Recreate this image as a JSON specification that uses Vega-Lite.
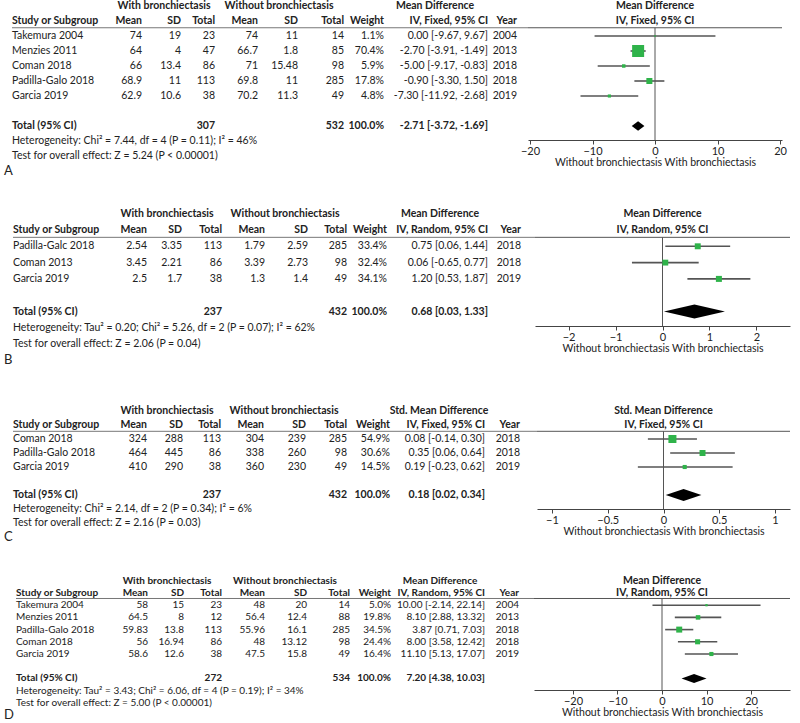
{
"$schema": "https://vega.github.io/schema/vega-lite/v6.json",
"background": "white",
"padding": 0,
"spacing": 0,
"resolve": {"scale": {"x": "independent", "y": "independent", "size": "independent"}},
"config": {
  "view": {"stroke": null},
  "font": "Lato",
  "text": {"font": "Lato", "fontSize": 10.5, "color": "#222"},
  "axis": {"domainColor": "#444", "tickColor": "#444", "tickSize": 4, "labelFont": "Lato", "labelFontSize": 11, "labelColor": "#222", "labelPadding": 1, "labelFlush": false, "labelOverlap": false, "titleFont": "Lato", "titleFontSize": 10.5, "titleFontWeight": "normal", "titleColor": "#222", "titlePadding": 1, "grid": false}
},
"datasets": {
"cellsA": [
{"r":-1,"c":10,"t":"With bronchiectasis","k":"g"},{"r":-1,"c":11,"t":"Without bronchiectasis","k":"g"},{"r":-1,"c":12,"t":"Mean Difference","k":"g"},
{"r":0,"c":0,"t":"Study or Subgroup","k":"h"},{"r":0,"c":1,"t":"Mean","k":"h"},{"r":0,"c":2,"t":"SD","k":"h"},{"r":0,"c":3,"t":"Total","k":"h"},{"r":0,"c":4,"t":"Mean","k":"h"},{"r":0,"c":5,"t":"SD","k":"h"},{"r":0,"c":6,"t":"Total","k":"h"},{"r":0,"c":7,"t":"Weight","k":"h"},{"r":0,"c":8,"t":"IV, Fixed, 95% CI","k":"h"},{"r":0,"c":9,"t":"Year","k":"h"},
{"r":1,"c":0,"t":"Takemura 2004","k":"b"},{"r":1,"c":1,"t":"74","k":"b"},{"r":1,"c":2,"t":"19","k":"b"},{"r":1,"c":3,"t":"23","k":"b"},{"r":1,"c":4,"t":"74","k":"b"},{"r":1,"c":5,"t":"11","k":"b"},{"r":1,"c":6,"t":"14","k":"b"},{"r":1,"c":7,"t":"1.1%","k":"b"},{"r":1,"c":8,"t":"0.00 [-9.67, 9.67]","k":"b"},{"r":1,"c":9,"t":"2004","k":"b"},
{"r":2,"c":0,"t":"Menzies 2011","k":"b"},{"r":2,"c":1,"t":"64","k":"b"},{"r":2,"c":2,"t":"4","k":"b"},{"r":2,"c":3,"t":"47","k":"b"},{"r":2,"c":4,"t":"66.7","k":"b"},{"r":2,"c":5,"t":"1.8","k":"b"},{"r":2,"c":6,"t":"85","k":"b"},{"r":2,"c":7,"t":"70.4%","k":"b"},{"r":2,"c":8,"t":"-2.70 [-3.91, -1.49]","k":"b"},{"r":2,"c":9,"t":"2013","k":"b"},
{"r":3,"c":0,"t":"Coman 2018","k":"b"},{"r":3,"c":1,"t":"66","k":"b"},{"r":3,"c":2,"t":"13.4","k":"b"},{"r":3,"c":3,"t":"86","k":"b"},{"r":3,"c":4,"t":"71","k":"b"},{"r":3,"c":5,"t":"15.48","k":"b"},{"r":3,"c":6,"t":"98","k":"b"},{"r":3,"c":7,"t":"5.9%","k":"b"},{"r":3,"c":8,"t":"-5.00 [-9.17, -0.83]","k":"b"},{"r":3,"c":9,"t":"2018","k":"b"},
{"r":4,"c":0,"t":"Padilla-Galo 2018","k":"b"},{"r":4,"c":1,"t":"68.9","k":"b"},{"r":4,"c":2,"t":"11","k":"b"},{"r":4,"c":3,"t":"113","k":"b"},{"r":4,"c":4,"t":"69.8","k":"b"},{"r":4,"c":5,"t":"11","k":"b"},{"r":4,"c":6,"t":"285","k":"b"},{"r":4,"c":7,"t":"17.8%","k":"b"},{"r":4,"c":8,"t":"-0.90 [-3.30, 1.50]","k":"b"},{"r":4,"c":9,"t":"2018","k":"b"},
{"r":5,"c":0,"t":"Garcia 2019","k":"b"},{"r":5,"c":1,"t":"62.9","k":"b"},{"r":5,"c":2,"t":"10.6","k":"b"},{"r":5,"c":3,"t":"38","k":"b"},{"r":5,"c":4,"t":"70.2","k":"b"},{"r":5,"c":5,"t":"11.3","k":"b"},{"r":5,"c":6,"t":"49","k":"b"},{"r":5,"c":7,"t":"4.8%","k":"b"},{"r":5,"c":8,"t":"-7.30 [-11.92, -2.68]","k":"b"},{"r":5,"c":9,"t":"2019","k":"b"},
{"r":7,"c":0,"t":"Total (95% CI)","k":"t"},{"r":7,"c":3,"t":"307","k":"t"},{"r":7,"c":6,"t":"532","k":"t"},{"r":7,"c":7,"t":"100.0%","k":"t"},{"r":7,"c":8,"t":"-2.71 [-3.72, -1.69]","k":"t"},
{"r":8,"c":0,"t":"Heterogeneity: Chi² = 7.44, df = 4 (P = 0.11); I² = 46%","k":"f"},
{"r":9,"c":0,"t":"Test for overall effect: Z = 5.24 (P < 0.00001)","k":"f"},
{"r":10,"c":-1,"t":"A","k":"l"}
],
"cellsB": [
{"r":-1,"c":10,"t":"With bronchiectasis","k":"g"},{"r":-1,"c":11,"t":"Without bronchiectasis","k":"g"},{"r":-1,"c":12,"t":"Mean Difference","k":"g"},
{"r":0,"c":0,"t":"Study or Subgroup","k":"h"},{"r":0,"c":1,"t":"Mean","k":"h"},{"r":0,"c":2,"t":"SD","k":"h"},{"r":0,"c":3,"t":"Total","k":"h"},{"r":0,"c":4,"t":"Mean","k":"h"},{"r":0,"c":5,"t":"SD","k":"h"},{"r":0,"c":6,"t":"Total","k":"h"},{"r":0,"c":7,"t":"Weight","k":"h"},{"r":0,"c":8,"t":"IV, Random, 95% CI","k":"h"},{"r":0,"c":9,"t":"Year","k":"h"},
{"r":1,"c":0,"t":"Padilla-Galc 2018","k":"b"},{"r":1,"c":1,"t":"2.54","k":"b"},{"r":1,"c":2,"t":"3.35","k":"b"},{"r":1,"c":3,"t":"113","k":"b"},{"r":1,"c":4,"t":"1.79","k":"b"},{"r":1,"c":5,"t":"2.59","k":"b"},{"r":1,"c":6,"t":"285","k":"b"},{"r":1,"c":7,"t":"33.4%","k":"b"},{"r":1,"c":8,"t":"0.75 [0.06, 1.44]","k":"b"},{"r":1,"c":9,"t":"2018","k":"b"},
{"r":2,"c":0,"t":"Coman 2013","k":"b"},{"r":2,"c":1,"t":"3.45","k":"b"},{"r":2,"c":2,"t":"2.21","k":"b"},{"r":2,"c":3,"t":"86","k":"b"},{"r":2,"c":4,"t":"3.39","k":"b"},{"r":2,"c":5,"t":"2.73","k":"b"},{"r":2,"c":6,"t":"98","k":"b"},{"r":2,"c":7,"t":"32.4%","k":"b"},{"r":2,"c":8,"t":"0.06 [-0.65, 0.77]","k":"b"},{"r":2,"c":9,"t":"2018","k":"b"},
{"r":3,"c":0,"t":"Garcia 2019","k":"b"},{"r":3,"c":1,"t":"2.5","k":"b"},{"r":3,"c":2,"t":"1.7","k":"b"},{"r":3,"c":3,"t":"38","k":"b"},{"r":3,"c":4,"t":"1.3","k":"b"},{"r":3,"c":5,"t":"1.4","k":"b"},{"r":3,"c":6,"t":"49","k":"b"},{"r":3,"c":7,"t":"34.1%","k":"b"},{"r":3,"c":8,"t":"1.20 [0.53, 1.87]","k":"b"},{"r":3,"c":9,"t":"2019","k":"b"},
{"r":5,"c":0,"t":"Total (95% CI)","k":"t"},{"r":5,"c":3,"t":"237","k":"t"},{"r":5,"c":6,"t":"432","k":"t"},{"r":5,"c":7,"t":"100.0%","k":"t"},{"r":5,"c":8,"t":"0.68 [0.03, 1.33]","k":"t"},
{"r":6,"c":0,"t":"Heterogeneity: Tau² = 0.20; Chi² = 5.26, df = 2 (P = 0.07); I² = 62%","k":"f"},
{"r":7,"c":0,"t":"Test for overall effect: Z = 2.06 (P = 0.04)","k":"f"},
{"r":8,"c":-1,"t":"B","k":"l"}
],
"cellsC": [
{"r":-1,"c":10,"t":"With bronchiectasis","k":"g"},{"r":-1,"c":11,"t":"Without bronchiectasis","k":"g"},{"r":-1,"c":12,"t":"Std. Mean Difference","k":"g"},
{"r":0,"c":0,"t":"Study or Subgroup","k":"h"},{"r":0,"c":1,"t":"Mean","k":"h"},{"r":0,"c":2,"t":"SD","k":"h"},{"r":0,"c":3,"t":"Total","k":"h"},{"r":0,"c":4,"t":"Mean","k":"h"},{"r":0,"c":5,"t":"SD","k":"h"},{"r":0,"c":6,"t":"Total","k":"h"},{"r":0,"c":7,"t":"Weight","k":"h"},{"r":0,"c":8,"t":"IV, Fixed, 95% CI","k":"h"},{"r":0,"c":9,"t":"Year","k":"h"},
{"r":1,"c":0,"t":"Coman 2018","k":"b"},{"r":1,"c":1,"t":"324","k":"b"},{"r":1,"c":2,"t":"288","k":"b"},{"r":1,"c":3,"t":"113","k":"b"},{"r":1,"c":4,"t":"304","k":"b"},{"r":1,"c":5,"t":"239","k":"b"},{"r":1,"c":6,"t":"285","k":"b"},{"r":1,"c":7,"t":"54.9%","k":"b"},{"r":1,"c":8,"t":"0.08 [-0.14, 0.30]","k":"b"},{"r":1,"c":9,"t":"2018","k":"b"},
{"r":2,"c":0,"t":"Padilla-Galo 2018","k":"b"},{"r":2,"c":1,"t":"464","k":"b"},{"r":2,"c":2,"t":"445","k":"b"},{"r":2,"c":3,"t":"86","k":"b"},{"r":2,"c":4,"t":"338","k":"b"},{"r":2,"c":5,"t":"260","k":"b"},{"r":2,"c":6,"t":"98","k":"b"},{"r":2,"c":7,"t":"30.6%","k":"b"},{"r":2,"c":8,"t":"0.35 [0.06, 0.64]","k":"b"},{"r":2,"c":9,"t":"2018","k":"b"},
{"r":3,"c":0,"t":"Garcia 2019","k":"b"},{"r":3,"c":1,"t":"410","k":"b"},{"r":3,"c":2,"t":"290","k":"b"},{"r":3,"c":3,"t":"38","k":"b"},{"r":3,"c":4,"t":"360","k":"b"},{"r":3,"c":5,"t":"230","k":"b"},{"r":3,"c":6,"t":"49","k":"b"},{"r":3,"c":7,"t":"14.5%","k":"b"},{"r":3,"c":8,"t":"0.19 [-0.23, 0.62]","k":"b"},{"r":3,"c":9,"t":"2019","k":"b"},
{"r":5,"c":0,"t":"Total (95% CI)","k":"t"},{"r":5,"c":3,"t":"237","k":"t"},{"r":5,"c":6,"t":"432","k":"t"},{"r":5,"c":7,"t":"100.0%","k":"t"},{"r":5,"c":8,"t":"0.18 [0.02, 0.34]","k":"t"},
{"r":6,"c":0,"t":"Heterogeneity: Chi² = 2.14, df = 2 (P = 0.34); I² = 6%","k":"f"},
{"r":7,"c":0,"t":"Test for overall effect: Z = 2.16 (P = 0.03)","k":"f"},
{"r":8,"c":-1,"t":"C","k":"l"}
],
"cellsD": [
{"r":-1,"c":10,"t":"With bronchiectasis","k":"g"},{"r":-1,"c":11,"t":"Without bronchiectasis","k":"g"},{"r":-1,"c":12,"t":"Mean Difference","k":"g"},
{"r":0,"c":0,"t":"Study or Subgroup","k":"h"},{"r":0,"c":1,"t":"Mean","k":"h"},{"r":0,"c":2,"t":"SD","k":"h"},{"r":0,"c":3,"t":"Total","k":"h"},{"r":0,"c":4,"t":"Mean","k":"h"},{"r":0,"c":5,"t":"SD","k":"h"},{"r":0,"c":6,"t":"Total","k":"h"},{"r":0,"c":7,"t":"Weight","k":"h"},{"r":0,"c":8,"t":"IV, Random, 95% CI","k":"h"},{"r":0,"c":9,"t":"Year","k":"h"},
{"r":1,"c":0,"t":"Takemura 2004","k":"b"},{"r":1,"c":1,"t":"58","k":"b"},{"r":1,"c":2,"t":"15","k":"b"},{"r":1,"c":3,"t":"23","k":"b"},{"r":1,"c":4,"t":"48","k":"b"},{"r":1,"c":5,"t":"20","k":"b"},{"r":1,"c":6,"t":"14","k":"b"},{"r":1,"c":7,"t":"5.0%","k":"b"},{"r":1,"c":8,"t":"10.00 [-2.14, 22.14]","k":"b"},{"r":1,"c":9,"t":"2004","k":"b"},
{"r":2,"c":0,"t":"Menzies 2011","k":"b"},{"r":2,"c":1,"t":"64.5","k":"b"},{"r":2,"c":2,"t":"8","k":"b"},{"r":2,"c":3,"t":"12","k":"b"},{"r":2,"c":4,"t":"56.4","k":"b"},{"r":2,"c":5,"t":"12.4","k":"b"},{"r":2,"c":6,"t":"88","k":"b"},{"r":2,"c":7,"t":"19.8%","k":"b"},{"r":2,"c":8,"t":"8.10 [2.88, 13.32]","k":"b"},{"r":2,"c":9,"t":"2013","k":"b"},
{"r":3,"c":0,"t":"Padilla-Galo 2018","k":"b"},{"r":3,"c":1,"t":"59.83","k":"b"},{"r":3,"c":2,"t":"13.8","k":"b"},{"r":3,"c":3,"t":"113","k":"b"},{"r":3,"c":4,"t":"55.96","k":"b"},{"r":3,"c":5,"t":"16.1","k":"b"},{"r":3,"c":6,"t":"285","k":"b"},{"r":3,"c":7,"t":"34.5%","k":"b"},{"r":3,"c":8,"t":"3.87 [0.71, 7.03]","k":"b"},{"r":3,"c":9,"t":"2018","k":"b"},
{"r":4,"c":0,"t":"Coman 2018","k":"b"},{"r":4,"c":1,"t":"56","k":"b"},{"r":4,"c":2,"t":"16.94","k":"b"},{"r":4,"c":3,"t":"86","k":"b"},{"r":4,"c":4,"t":"48","k":"b"},{"r":4,"c":5,"t":"13.12","k":"b"},{"r":4,"c":6,"t":"98","k":"b"},{"r":4,"c":7,"t":"24.4%","k":"b"},{"r":4,"c":8,"t":"8.00 [3.58, 12.42]","k":"b"},{"r":4,"c":9,"t":"2018","k":"b"},
{"r":5,"c":0,"t":"Garcia 2019","k":"b"},{"r":5,"c":1,"t":"58.6","k":"b"},{"r":5,"c":2,"t":"12.6","k":"b"},{"r":5,"c":3,"t":"38","k":"b"},{"r":5,"c":4,"t":"47.5","k":"b"},{"r":5,"c":5,"t":"15.8","k":"b"},{"r":5,"c":6,"t":"49","k":"b"},{"r":5,"c":7,"t":"16.4%","k":"b"},{"r":5,"c":8,"t":"11.10 [5.13, 17.07]","k":"b"},{"r":5,"c":9,"t":"2019","k":"b"},
{"r":7,"c":0,"t":"Total (95% CI)","k":"t"},{"r":7,"c":3,"t":"272","k":"t"},{"r":7,"c":6,"t":"534","k":"t"},{"r":7,"c":7,"t":"100.0%","k":"t"},{"r":7,"c":8,"t":"7.20 [4.38, 10.03]","k":"t"},
{"r":8,"c":0,"t":"Heterogeneity: Tau² = 3.43; Chi² = 6.06, df = 4 (P = 0.19); I² = 34%","k":"f"},
{"r":9,"c":0,"t":"Test for overall effect: Z = 5.00 (P < 0.00001)","k":"f"},
{"r":10,"c":-1,"t":"D","k":"l"}
],
"forestA": [
{"study":"Takemura 2004","r":1,"est":0.00,"lo":-9.67,"hi":9.67,"w":1.1,"k":"s"},
{"study":"Menzies 2011","r":2,"est":-2.70,"lo":-3.91,"hi":-1.49,"w":70.4,"k":"s"},
{"study":"Coman 2018","r":3,"est":-5.00,"lo":-9.17,"hi":-0.83,"w":5.9,"k":"s"},
{"study":"Padilla-Galo 2018","r":4,"est":-0.90,"lo":-3.30,"hi":1.50,"w":17.8,"k":"s"},
{"study":"Garcia 2019","r":5,"est":-7.30,"lo":-11.92,"hi":-2.68,"w":4.8,"k":"s"},
{"study":"Total (95% CI)","r":7,"est":-2.71,"lo":-3.72,"hi":-1.69,"w":100,"k":"t"}
],
"forestB": [
{"study":"Padilla-Galo 2018","r":1,"est":0.75,"lo":0.06,"hi":1.44,"w":33.4,"k":"s"},
{"study":"Coman 2018","r":2,"est":0.06,"lo":-0.65,"hi":0.77,"w":32.4,"k":"s"},
{"study":"Garcia 2019","r":3,"est":1.20,"lo":0.53,"hi":1.87,"w":34.1,"k":"s"},
{"study":"Total (95% CI)","r":5,"est":0.68,"lo":0.03,"hi":1.33,"w":100,"k":"t"}
],
"forestC": [
{"study":"Coman 2018","r":1,"est":0.08,"lo":-0.14,"hi":0.30,"w":54.9,"k":"s"},
{"study":"Padilla-Galo 2018","r":2,"est":0.35,"lo":0.06,"hi":0.64,"w":30.6,"k":"s"},
{"study":"Garcia 2019","r":3,"est":0.19,"lo":-0.23,"hi":0.62,"w":14.5,"k":"s"},
{"study":"Total (95% CI)","r":5,"est":0.18,"lo":0.02,"hi":0.34,"w":100,"k":"t"}
],
"forestD": [
{"study":"Takemura 2004","r":1,"est":10.00,"lo":-2.14,"hi":22.14,"w":5.0,"k":"s"},
{"study":"Menzies 2011","r":2,"est":8.10,"lo":2.88,"hi":13.32,"w":19.8,"k":"s"},
{"study":"Padilla-Galo 2018","r":3,"est":3.87,"lo":0.71,"hi":7.03,"w":34.5,"k":"s"},
{"study":"Coman 2018","r":4,"est":8.00,"lo":3.58,"hi":12.42,"w":24.4,"k":"s"},
{"study":"Garcia 2019","r":5,"est":11.10,"lo":5.13,"hi":17.07,"w":16.4,"k":"s"},
{"study":"Total (95% CI)","r":7,"est":7.20,"lo":4.38,"hi":10.03,"w":100,"k":"t"}
]
},
"vconcat": [
{
"spacing": 0, "bounds": "flush", "resolve": {"scale": {"x": "independent", "y": "independent", "size": "independent"}},
"hconcat": [
{
"width": 528, "height": 180, "data": {"name": "cellsA"},
"layer": [
{"transform":[{"filter":"datum.c==0 && (datum.k=='h' || datum.k=='t')"}],"mark":{"type":"text","align":"left","baseline":"middle","fontWeight":"bold"},"encoding":{"x":{"field":"c","type":"quantitative","axis":null,"scale":{"domain":[-1,0,1,2,3,4,5,6,7,8,9,10,11,12,13],"range":[4,12,142,181,215,258,298,344,384,488,517,164,279,435,528],"zero":false,"nice":false}},"y":{"field":"r","type":"quantitative","axis":null,"scale":{"domain":[-1.4,10.6],"reverse":true,"zero":false,"nice":false}},"text":{"field":"t","type":"nominal"}}},
{"transform":[{"filter":"datum.c==0 && (datum.k=='b' || datum.k=='f')"}],"mark":{"type":"text","align":"left","baseline":"middle"},"encoding":{"x":{"field":"c","type":"quantitative","axis":null,"scale":{"domain":[-1,0,1,2,3,4,5,6,7,8,9,10,11,12,13],"range":[4,12,142,181,215,258,298,344,384,488,517,164,279,435,528],"zero":false,"nice":false}},"y":{"field":"r","type":"quantitative","axis":null,"scale":{"domain":[-1.4,10.6],"reverse":true,"zero":false,"nice":false}},"text":{"field":"t","type":"nominal"}}},
{"transform":[{"filter":"datum.c>=1 && datum.c<=9 && (datum.k=='h' || datum.k=='t')"}],"mark":{"type":"text","align":"right","baseline":"middle","fontWeight":"bold"},"encoding":{"x":{"field":"c","type":"quantitative","axis":null,"scale":{"domain":[-1,0,1,2,3,4,5,6,7,8,9,10,11,12,13],"range":[4,12,142,181,215,258,298,344,384,488,517,164,279,435,528],"zero":false,"nice":false}},"y":{"field":"r","type":"quantitative","axis":null,"scale":{"domain":[-1.4,10.6],"reverse":true,"zero":false,"nice":false}},"text":{"field":"t","type":"nominal"}}},
{"transform":[{"filter":"datum.c>=1 && datum.c<=9 && datum.k=='b'"}],"mark":{"type":"text","align":"right","baseline":"middle"},"encoding":{"x":{"field":"c","type":"quantitative","axis":null,"scale":{"domain":[-1,0,1,2,3,4,5,6,7,8,9,10,11,12,13],"range":[4,12,142,181,215,258,298,344,384,488,517,164,279,435,528],"zero":false,"nice":false}},"y":{"field":"r","type":"quantitative","axis":null,"scale":{"domain":[-1.4,10.6],"reverse":true,"zero":false,"nice":false}},"text":{"field":"t","type":"nominal"}}},
{"transform":[{"filter":"datum.k=='g'"}],"mark":{"type":"text","align":"center","baseline":"middle","fontWeight":"bold"},"encoding":{"x":{"field":"c","type":"quantitative","axis":null,"scale":{"domain":[-1,0,1,2,3,4,5,6,7,8,9,10,11,12,13],"range":[4,12,142,181,215,258,298,344,384,488,517,164,279,435,528],"zero":false,"nice":false}},"y":{"field":"r","type":"quantitative","axis":null,"scale":{"domain":[-1.4,10.6],"reverse":true,"zero":false,"nice":false}},"text":{"field":"t","type":"nominal"}}},
{"transform":[{"filter":"datum.k=='l'"}],"mark":{"type":"text","align":"left","baseline":"middle","fontSize":13},"encoding":{"x":{"field":"c","type":"quantitative","axis":null,"scale":{"domain":[-1,0,1,2,3,4,5,6,7,8,9,10,11,12,13],"range":[4,12,142,181,215,258,298,344,384,488,517,164,279,435,528],"zero":false,"nice":false}},"y":{"field":"r","type":"quantitative","axis":null,"scale":{"domain":[-1.4,10.6],"reverse":true,"zero":false,"nice":false}},"text":{"field":"t","type":"nominal"}}},
{"data":{"values":[{}]},"mark":{"type":"rule","color":"#777","strokeWidth":1},"encoding":{"x":{"datum":0,"type":"quantitative","axis":null,"scale":{"domain":[-1,0,1,2,3,4,5,6,7,8,9,10,11,12,13],"range":[4,12,142,181,215,258,298,344,384,488,517,164,279,435,528],"zero":false,"nice":false}},"x2":{"datum":13},"y":{"datum":0.45,"type":"quantitative","axis":null,"scale":{"domain":[-1.4,10.6],"reverse":true,"zero":false,"nice":false}}}}
]
},
{
"width": 254, "height": 140, "data": {"name": "forestA"},
"layer": [
{"data":{"values":[{}]},"mark":{"type":"text","text":"Mean Difference","fontWeight":"bold","baseline":"middle"},"encoding":{"x":{"datum":0,"type":"quantitative","scale":{"domain":[-20.32,20.32],"zero":false,"nice":false},"axis":{"values":[-20,-10,0,10,20],"format":"d","title":"Without bronchiectasis  With bronchiectasis"}},"y":{"datum":-1,"type":"quantitative","axis":null,"scale":{"domain":[-1.4,7.9333],"reverse":true,"zero":false,"nice":false}}}},
{"data":{"values":[{}]},"mark":{"type":"text","text":"IV, Fixed, 95% CI","fontWeight":"bold","baseline":"middle"},"encoding":{"x":{"datum":0,"type":"quantitative","scale":{"domain":[-20.32,20.32],"zero":false,"nice":false},"axis":{"values":[-20,-10,0,10,20],"format":"d","title":"Without bronchiectasis  With bronchiectasis"}},"y":{"datum":0,"type":"quantitative","axis":null,"scale":{"domain":[-1.4,7.9333],"reverse":true,"zero":false,"nice":false}}}},
{"data":{"values":[{}]},"mark":{"type":"rule","color":"#555"},"encoding":{"y":{"datum":0.45,"type":"quantitative","axis":null,"scale":{"domain":[-1.4,7.9333],"reverse":true,"zero":false,"nice":false}}}},
{"data":{"values":[{}]},"mark":{"type":"rule","color":"#555"},"encoding":{"x":{"datum":0,"type":"quantitative","scale":{"domain":[-20.32,20.32],"zero":false,"nice":false},"axis":{"values":[-20,-10,0,10,20],"format":"d","title":"Without bronchiectasis  With bronchiectasis"}},"y":{"datum":0.45,"type":"quantitative","axis":null,"scale":{"domain":[-1.4,7.9333],"reverse":true,"zero":false,"nice":false}},"y2":{"datum":7.9333}}},
{"transform":[{"filter":"datum.k=='s'"}],"mark":{"type":"rule","color":"#555","strokeWidth":1.6},"encoding":{"x":{"field":"lo","type":"quantitative","scale":{"domain":[-20.32,20.32],"zero":false,"nice":false},"axis":{"values":[-20,-10,0,10,20],"format":"d","title":"Without bronchiectasis  With bronchiectasis"}},"x2":{"field":"hi"},"y":{"field":"r","type":"quantitative","axis":null,"scale":{"domain":[-1.4,7.9333],"reverse":true,"zero":false,"nice":false}}}},
{"transform":[{"filter":"datum.k=='s'"}],"mark":{"type":"point","shape":"square","filled":true,"color":"#2fb34a","opacity":1},"encoding":{"x":{"field":"est","type":"quantitative","scale":{"domain":[-20.32,20.32],"zero":false,"nice":false},"axis":{"values":[-20,-10,0,10,20],"format":"d","title":"Without bronchiectasis  With bronchiectasis"}},"y":{"field":"r","type":"quantitative","axis":null,"scale":{"domain":[-1.4,7.9333],"reverse":true,"zero":false,"nice":false}},"size":{"field":"w","type":"quantitative","legend":null,"scale":{"domain":[0,100],"range":[0,205]}}}},
{"transform":[{"filter":"datum.k=='t'"}],"mark":{"type":"point","shape":"M-1,0L0,-0.75L1,0L0,0.75Z","filled":true,"color":"#000","opacity":1,"size":161},"encoding":{"x":{"field":"est","type":"quantitative","scale":{"domain":[-20.32,20.32],"zero":false,"nice":false},"axis":{"values":[-20,-10,0,10,20],"format":"d","title":"Without bronchiectasis  With bronchiectasis"}},"y":{"field":"r","type":"quantitative","axis":null,"scale":{"domain":[-1.4,7.9333],"reverse":true,"zero":false,"nice":false}}}}
]
}
]
},
{
"spacing": 0, "bounds": "flush", "resolve": {"scale": {"x": "independent", "y": "independent", "size": "independent"}},
"hconcat": [
{
"width": 535, "height": 185, "data": {"name": "cellsB"},
"layer": [
{"transform":[{"filter":"datum.c==0 && (datum.k=='h' || datum.k=='t')"}],"mark":{"type":"text","align":"left","baseline":"middle","fontWeight":"bold"},"encoding":{"x":{"field":"c","type":"quantitative","axis":null,"scale":{"domain":[-1,0,1,2,3,4,5,6,7,8,9,10,11,12,13],"range":[4,13,147,182,222,265,308,347,387,488,521,167,285,440,535],"zero":false,"nice":false}},"y":{"field":"r","type":"quantitative","axis":null,"scale":{"domain":[-3.0675,8.2822],"reverse":true,"zero":false,"nice":false}},"text":{"field":"t","type":"nominal"}}},
{"transform":[{"filter":"datum.c==0 && (datum.k=='b' || datum.k=='f')"}],"mark":{"type":"text","align":"left","baseline":"middle"},"encoding":{"x":{"field":"c","type":"quantitative","axis":null,"scale":{"domain":[-1,0,1,2,3,4,5,6,7,8,9,10,11,12,13],"range":[4,13,147,182,222,265,308,347,387,488,521,167,285,440,535],"zero":false,"nice":false}},"y":{"field":"r","type":"quantitative","axis":null,"scale":{"domain":[-3.0675,8.2822],"reverse":true,"zero":false,"nice":false}},"text":{"field":"t","type":"nominal"}}},
{"transform":[{"filter":"datum.c>=1 && datum.c<=9 && (datum.k=='h' || datum.k=='t')"}],"mark":{"type":"text","align":"right","baseline":"middle","fontWeight":"bold"},"encoding":{"x":{"field":"c","type":"quantitative","axis":null,"scale":{"domain":[-1,0,1,2,3,4,5,6,7,8,9,10,11,12,13],"range":[4,13,147,182,222,265,308,347,387,488,521,167,285,440,535],"zero":false,"nice":false}},"y":{"field":"r","type":"quantitative","axis":null,"scale":{"domain":[-3.0675,8.2822],"reverse":true,"zero":false,"nice":false}},"text":{"field":"t","type":"nominal"}}},
{"transform":[{"filter":"datum.c>=1 && datum.c<=9 && datum.k=='b'"}],"mark":{"type":"text","align":"right","baseline":"middle"},"encoding":{"x":{"field":"c","type":"quantitative","axis":null,"scale":{"domain":[-1,0,1,2,3,4,5,6,7,8,9,10,11,12,13],"range":[4,13,147,182,222,265,308,347,387,488,521,167,285,440,535],"zero":false,"nice":false}},"y":{"field":"r","type":"quantitative","axis":null,"scale":{"domain":[-3.0675,8.2822],"reverse":true,"zero":false,"nice":false}},"text":{"field":"t","type":"nominal"}}},
{"transform":[{"filter":"datum.k=='g'"}],"mark":{"type":"text","align":"center","baseline":"middle","fontWeight":"bold"},"encoding":{"x":{"field":"c","type":"quantitative","axis":null,"scale":{"domain":[-1,0,1,2,3,4,5,6,7,8,9,10,11,12,13],"range":[4,13,147,182,222,265,308,347,387,488,521,167,285,440,535],"zero":false,"nice":false}},"y":{"field":"r","type":"quantitative","axis":null,"scale":{"domain":[-3.0675,8.2822],"reverse":true,"zero":false,"nice":false}},"text":{"field":"t","type":"nominal"}}},
{"transform":[{"filter":"datum.k=='l'"}],"mark":{"type":"text","align":"left","baseline":"middle","fontSize":13},"encoding":{"x":{"field":"c","type":"quantitative","axis":null,"scale":{"domain":[-1,0,1,2,3,4,5,6,7,8,9,10,11,12,13],"range":[4,13,147,182,222,265,308,347,387,488,521,167,285,440,535],"zero":false,"nice":false}},"y":{"field":"r","type":"quantitative","axis":null,"scale":{"domain":[-3.0675,8.2822],"reverse":true,"zero":false,"nice":false}},"text":{"field":"t","type":"nominal"}}},
{"data":{"values":[{}]},"mark":{"type":"rule","color":"#777","strokeWidth":1},"encoding":{"x":{"datum":0,"type":"quantitative","axis":null,"scale":{"domain":[-1,0,1,2,3,4,5,6,7,8,9,10,11,12,13],"range":[4,13,147,182,222,265,308,347,387,488,521,167,285,440,535],"zero":false,"nice":false}},"x2":{"datum":13},"y":{"datum":0.45,"type":"quantitative","axis":null,"scale":{"domain":[-3.0675,8.2822],"reverse":true,"zero":false,"nice":false}}}}
]
},
{
"width": 255, "height": 146, "data": {"name": "forestB"},
"layer": [
{"data":{"values":[{}]},"mark":{"type":"text","text":"Mean Difference","fontWeight":"bold","baseline":"middle"},"encoding":{"x":{"datum":0,"type":"quantitative","scale":{"domain":[-2.713,2.713],"zero":false,"nice":false},"axis":{"values":[-2,-1,0,1,2],"format":"d","title":"Without bronchiectasis  With bronchiectasis"}},"y":{"datum":-1,"type":"quantitative","axis":null,"scale":{"domain":[-3.0675,5.8896],"reverse":true,"zero":false,"nice":false}}}},
{"data":{"values":[{}]},"mark":{"type":"text","text":"IV, Random, 95% CI","fontWeight":"bold","baseline":"middle"},"encoding":{"x":{"datum":0,"type":"quantitative","scale":{"domain":[-2.713,2.713],"zero":false,"nice":false},"axis":{"values":[-2,-1,0,1,2],"format":"d","title":"Without bronchiectasis  With bronchiectasis"}},"y":{"datum":0,"type":"quantitative","axis":null,"scale":{"domain":[-3.0675,5.8896],"reverse":true,"zero":false,"nice":false}}}},
{"data":{"values":[{}]},"mark":{"type":"rule","color":"#555"},"encoding":{"y":{"datum":0.45,"type":"quantitative","axis":null,"scale":{"domain":[-3.0675,5.8896],"reverse":true,"zero":false,"nice":false}}}},
{"data":{"values":[{}]},"mark":{"type":"rule","color":"#555"},"encoding":{"x":{"datum":0,"type":"quantitative","scale":{"domain":[-2.713,2.713],"zero":false,"nice":false},"axis":{"values":[-2,-1,0,1,2],"format":"d","title":"Without bronchiectasis  With bronchiectasis"}},"y":{"datum":0.45,"type":"quantitative","axis":null,"scale":{"domain":[-3.0675,5.8896],"reverse":true,"zero":false,"nice":false}},"y2":{"datum":5.8896}}},
{"transform":[{"filter":"datum.k=='s'"}],"mark":{"type":"rule","color":"#555","strokeWidth":1.6},"encoding":{"x":{"field":"lo","type":"quantitative","scale":{"domain":[-2.713,2.713],"zero":false,"nice":false},"axis":{"values":[-2,-1,0,1,2],"format":"d","title":"Without bronchiectasis  With bronchiectasis"}},"x2":{"field":"hi"},"y":{"field":"r","type":"quantitative","axis":null,"scale":{"domain":[-3.0675,5.8896],"reverse":true,"zero":false,"nice":false}}}},
{"transform":[{"filter":"datum.k=='s'"}],"mark":{"type":"point","shape":"square","filled":true,"color":"#2fb34a","opacity":1},"encoding":{"x":{"field":"est","type":"quantitative","scale":{"domain":[-2.713,2.713],"zero":false,"nice":false},"axis":{"values":[-2,-1,0,1,2],"format":"d","title":"Without bronchiectasis  With bronchiectasis"}},"y":{"field":"r","type":"quantitative","axis":null,"scale":{"domain":[-3.0675,5.8896],"reverse":true,"zero":false,"nice":false}},"size":{"field":"w","type":"quantitative","legend":null,"scale":{"domain":[0,100],"range":[0,106]}}}},
{"transform":[{"filter":"datum.k=='t'"}],"mark":{"type":"point","shape":"M-1,0L0,-0.23L1,0L0,0.23Z","filled":true,"color":"#000","opacity":1,"size":3721},"encoding":{"x":{"field":"est","type":"quantitative","scale":{"domain":[-2.713,2.713],"zero":false,"nice":false},"axis":{"values":[-2,-1,0,1,2],"format":"d","title":"Without bronchiectasis  With bronchiectasis"}},"y":{"field":"r","type":"quantitative","axis":null,"scale":{"domain":[-3.0675,5.8896],"reverse":true,"zero":false,"nice":false}}}}
]
}
]
},
{
"spacing": 0, "bounds": "flush", "resolve": {"scale": {"x": "independent", "y": "independent", "size": "independent"}},
"hconcat": [
{
"width": 537, "height": 180, "data": {"name": "cellsC"},
"layer": [
{"transform":[{"filter":"datum.c==0 && (datum.k=='h' || datum.k=='t')"}],"mark":{"type":"text","align":"left","baseline":"middle","fontWeight":"bold"},"encoding":{"x":{"field":"c","type":"quantitative","axis":null,"scale":{"domain":[-1,0,1,2,3,4,5,6,7,8,9,10,11,12,13],"range":[4,13,147,183,221,264,306,347,390,485,520,167,284,439,537],"zero":false,"nice":false}},"y":{"field":"r","type":"quantitative","axis":null,"scale":{"domain":[-4.0714,8.7857],"reverse":true,"zero":false,"nice":false}},"text":{"field":"t","type":"nominal"}}},
{"transform":[{"filter":"datum.c==0 && (datum.k=='b' || datum.k=='f')"}],"mark":{"type":"text","align":"left","baseline":"middle"},"encoding":{"x":{"field":"c","type":"quantitative","axis":null,"scale":{"domain":[-1,0,1,2,3,4,5,6,7,8,9,10,11,12,13],"range":[4,13,147,183,221,264,306,347,390,485,520,167,284,439,537],"zero":false,"nice":false}},"y":{"field":"r","type":"quantitative","axis":null,"scale":{"domain":[-4.0714,8.7857],"reverse":true,"zero":false,"nice":false}},"text":{"field":"t","type":"nominal"}}},
{"transform":[{"filter":"datum.c>=1 && datum.c<=9 && (datum.k=='h' || datum.k=='t')"}],"mark":{"type":"text","align":"right","baseline":"middle","fontWeight":"bold"},"encoding":{"x":{"field":"c","type":"quantitative","axis":null,"scale":{"domain":[-1,0,1,2,3,4,5,6,7,8,9,10,11,12,13],"range":[4,13,147,183,221,264,306,347,390,485,520,167,284,439,537],"zero":false,"nice":false}},"y":{"field":"r","type":"quantitative","axis":null,"scale":{"domain":[-4.0714,8.7857],"reverse":true,"zero":false,"nice":false}},"text":{"field":"t","type":"nominal"}}},
{"transform":[{"filter":"datum.c>=1 && datum.c<=9 && datum.k=='b'"}],"mark":{"type":"text","align":"right","baseline":"middle"},"encoding":{"x":{"field":"c","type":"quantitative","axis":null,"scale":{"domain":[-1,0,1,2,3,4,5,6,7,8,9,10,11,12,13],"range":[4,13,147,183,221,264,306,347,390,485,520,167,284,439,537],"zero":false,"nice":false}},"y":{"field":"r","type":"quantitative","axis":null,"scale":{"domain":[-4.0714,8.7857],"reverse":true,"zero":false,"nice":false}},"text":{"field":"t","type":"nominal"}}},
{"transform":[{"filter":"datum.k=='g'"}],"mark":{"type":"text","align":"center","baseline":"middle","fontWeight":"bold"},"encoding":{"x":{"field":"c","type":"quantitative","axis":null,"scale":{"domain":[-1,0,1,2,3,4,5,6,7,8,9,10,11,12,13],"range":[4,13,147,183,221,264,306,347,390,485,520,167,284,439,537],"zero":false,"nice":false}},"y":{"field":"r","type":"quantitative","axis":null,"scale":{"domain":[-4.0714,8.7857],"reverse":true,"zero":false,"nice":false}},"text":{"field":"t","type":"nominal"}}},
{"transform":[{"filter":"datum.k=='l'"}],"mark":{"type":"text","align":"left","baseline":"middle","fontSize":13},"encoding":{"x":{"field":"c","type":"quantitative","axis":null,"scale":{"domain":[-1,0,1,2,3,4,5,6,7,8,9,10,11,12,13],"range":[4,13,147,183,221,264,306,347,390,485,520,167,284,439,537],"zero":false,"nice":false}},"y":{"field":"r","type":"quantitative","axis":null,"scale":{"domain":[-4.0714,8.7857],"reverse":true,"zero":false,"nice":false}},"text":{"field":"t","type":"nominal"}}},
{"data":{"values":[{}]},"mark":{"type":"rule","color":"#777","strokeWidth":1},"encoding":{"x":{"datum":0,"type":"quantitative","axis":null,"scale":{"domain":[-1,0,1,2,3,4,5,6,7,8,9,10,11,12,13],"range":[4,13,147,183,221,264,306,347,390,485,520,167,284,439,537],"zero":false,"nice":false}},"x2":{"datum":13},"y":{"datum":0.45,"type":"quantitative","axis":null,"scale":{"domain":[-4.0714,8.7857],"reverse":true,"zero":false,"nice":false}}}}
]
},
{
"width": 253, "height": 141, "data": {"name": "forestC"},
"layer": [
{"data":{"values":[{}]},"mark":{"type":"text","text":"Std. Mean Difference","fontWeight":"bold","baseline":"middle"},"encoding":{"x":{"datum":0,"type":"quantitative","scale":{"domain":[-1.1345,1.1345],"zero":false,"nice":false},"axis":{"values":[-1,-0.5,0,0.5,1],"format":".1~f","title":"Without bronchiectasis  With bronchiectasis"}},"y":{"datum":-1,"type":"quantitative","axis":null,"scale":{"domain":[-4.0714,6.0],"reverse":true,"zero":false,"nice":false}}}},
{"data":{"values":[{}]},"mark":{"type":"text","text":"IV, Fixed, 95% CI","fontWeight":"bold","baseline":"middle"},"encoding":{"x":{"datum":0,"type":"quantitative","scale":{"domain":[-1.1345,1.1345],"zero":false,"nice":false},"axis":{"values":[-1,-0.5,0,0.5,1],"format":".1~f","title":"Without bronchiectasis  With bronchiectasis"}},"y":{"datum":0,"type":"quantitative","axis":null,"scale":{"domain":[-4.0714,6.0],"reverse":true,"zero":false,"nice":false}}}},
{"data":{"values":[{}]},"mark":{"type":"rule","color":"#555"},"encoding":{"y":{"datum":0.45,"type":"quantitative","axis":null,"scale":{"domain":[-4.0714,6.0],"reverse":true,"zero":false,"nice":false}}}},
{"data":{"values":[{}]},"mark":{"type":"rule","color":"#555"},"encoding":{"x":{"datum":0,"type":"quantitative","scale":{"domain":[-1.1345,1.1345],"zero":false,"nice":false},"axis":{"values":[-1,-0.5,0,0.5,1],"format":".1~f","title":"Without bronchiectasis  With bronchiectasis"}},"y":{"datum":0.45,"type":"quantitative","axis":null,"scale":{"domain":[-4.0714,6.0],"reverse":true,"zero":false,"nice":false}},"y2":{"datum":6.0}}},
{"transform":[{"filter":"datum.k=='s'"}],"mark":{"type":"rule","color":"#555","strokeWidth":1.6},"encoding":{"x":{"field":"lo","type":"quantitative","scale":{"domain":[-1.1345,1.1345],"zero":false,"nice":false},"axis":{"values":[-1,-0.5,0,0.5,1],"format":".1~f","title":"Without bronchiectasis  With bronchiectasis"}},"x2":{"field":"hi"},"y":{"field":"r","type":"quantitative","axis":null,"scale":{"domain":[-4.0714,6.0],"reverse":true,"zero":false,"nice":false}}}},
{"transform":[{"filter":"datum.k=='s'"}],"mark":{"type":"point","shape":"square","filled":true,"color":"#2fb34a","opacity":1},"encoding":{"x":{"field":"est","type":"quantitative","scale":{"domain":[-1.1345,1.1345],"zero":false,"nice":false},"axis":{"values":[-1,-0.5,0,0.5,1],"format":".1~f","title":"Without bronchiectasis  With bronchiectasis"}},"y":{"field":"r","type":"quantitative","axis":null,"scale":{"domain":[-4.0714,6.0],"reverse":true,"zero":false,"nice":false}},"size":{"field":"w","type":"quantitative","legend":null,"scale":{"domain":[0,100],"range":[0,117]}}}},
{"transform":[{"filter":"datum.k=='t'"}],"mark":{"type":"point","shape":"M-1,0L0,-0.34L1,0L0,0.34Z","filled":true,"color":"#000","opacity":1,"size":1274},"encoding":{"x":{"field":"est","type":"quantitative","scale":{"domain":[-1.1345,1.1345],"zero":false,"nice":false},"axis":{"values":[-1,-0.5,0,0.5,1],"format":".1~f","title":"Without bronchiectasis  With bronchiectasis"}},"y":{"field":"r","type":"quantitative","axis":null,"scale":{"domain":[-4.0714,6.0],"reverse":true,"zero":false,"nice":false}}}}
]
}
]
},
{
"spacing": 0, "bounds": "flush", "resolve": {"scale": {"x": "independent", "y": "independent", "size": "independent"}},
"hconcat": [
{
"width": 534, "height": 178, "data": {"name": "cellsD"},
"layer": [
{"transform":[{"filter":"datum.c==0 && (datum.k=='h' || datum.k=='t')"}],"mark":{"type":"text","align":"left","baseline":"middle","fontWeight":"bold","fontSize":10},"encoding":{"x":{"field":"c","type":"quantitative","axis":null,"scale":{"domain":[-1,0,1,2,3,4,5,6,7,8,9,10,11,12,13],"range":[4,16,148,184,222,265,307,350,391,485,519,167,285,440,534],"zero":false,"nice":false}},"y":{"field":"r","type":"quantitative","axis":null,"scale":{"domain":[-3.6885,10.9016],"reverse":true,"zero":false,"nice":false}},"text":{"field":"t","type":"nominal"}}},
{"transform":[{"filter":"datum.c==0 && (datum.k=='b' || datum.k=='f')"}],"mark":{"type":"text","align":"left","baseline":"middle","fontSize":10},"encoding":{"x":{"field":"c","type":"quantitative","axis":null,"scale":{"domain":[-1,0,1,2,3,4,5,6,7,8,9,10,11,12,13],"range":[4,16,148,184,222,265,307,350,391,485,519,167,285,440,534],"zero":false,"nice":false}},"y":{"field":"r","type":"quantitative","axis":null,"scale":{"domain":[-3.6885,10.9016],"reverse":true,"zero":false,"nice":false}},"text":{"field":"t","type":"nominal"}}},
{"transform":[{"filter":"datum.c>=1 && datum.c<=9 && (datum.k=='h' || datum.k=='t')"}],"mark":{"type":"text","align":"right","baseline":"middle","fontWeight":"bold","fontSize":10},"encoding":{"x":{"field":"c","type":"quantitative","axis":null,"scale":{"domain":[-1,0,1,2,3,4,5,6,7,8,9,10,11,12,13],"range":[4,16,148,184,222,265,307,350,391,485,519,167,285,440,534],"zero":false,"nice":false}},"y":{"field":"r","type":"quantitative","axis":null,"scale":{"domain":[-3.6885,10.9016],"reverse":true,"zero":false,"nice":false}},"text":{"field":"t","type":"nominal"}}},
{"transform":[{"filter":"datum.c>=1 && datum.c<=9 && datum.k=='b'"}],"mark":{"type":"text","align":"right","baseline":"middle","fontSize":10},"encoding":{"x":{"field":"c","type":"quantitative","axis":null,"scale":{"domain":[-1,0,1,2,3,4,5,6,7,8,9,10,11,12,13],"range":[4,16,148,184,222,265,307,350,391,485,519,167,285,440,534],"zero":false,"nice":false}},"y":{"field":"r","type":"quantitative","axis":null,"scale":{"domain":[-3.6885,10.9016],"reverse":true,"zero":false,"nice":false}},"text":{"field":"t","type":"nominal"}}},
{"transform":[{"filter":"datum.k=='g'"}],"mark":{"type":"text","align":"center","baseline":"middle","fontWeight":"bold","fontSize":10},"encoding":{"x":{"field":"c","type":"quantitative","axis":null,"scale":{"domain":[-1,0,1,2,3,4,5,6,7,8,9,10,11,12,13],"range":[4,16,148,184,222,265,307,350,391,485,519,167,285,440,534],"zero":false,"nice":false}},"y":{"field":"r","type":"quantitative","axis":null,"scale":{"domain":[-3.6885,10.9016],"reverse":true,"zero":false,"nice":false}},"text":{"field":"t","type":"nominal"}}},
{"transform":[{"filter":"datum.k=='l'"}],"mark":{"type":"text","align":"left","baseline":"middle","fontSize":13},"encoding":{"x":{"field":"c","type":"quantitative","axis":null,"scale":{"domain":[-1,0,1,2,3,4,5,6,7,8,9,10,11,12,13],"range":[4,16,148,184,222,265,307,350,391,485,519,167,285,440,534],"zero":false,"nice":false}},"y":{"field":"r","type":"quantitative","axis":null,"scale":{"domain":[-3.6885,10.9016],"reverse":true,"zero":false,"nice":false}},"text":{"field":"t","type":"nominal"}}},
{"data":{"values":[{}]},"mark":{"type":"rule","color":"#777","strokeWidth":1},"encoding":{"x":{"datum":0,"type":"quantitative","axis":null,"scale":{"domain":[-1,0,1,2,3,4,5,6,7,8,9,10,11,12,13],"range":[4,16,148,184,222,265,307,350,391,485,519,167,285,440,534],"zero":false,"nice":false}},"x2":{"datum":13},"y":{"datum":0.45,"type":"quantitative","axis":null,"scale":{"domain":[-3.6885,10.9016],"reverse":true,"zero":false,"nice":false}}}}
]
},
{
"width": 256, "height": 142, "data": {"name": "forestD"},
"layer": [
{"data":{"values":[{}]},"mark":{"type":"text","text":"Mean Difference","fontWeight":"bold","baseline":"middle"},"encoding":{"x":{"datum":0,"type":"quantitative","scale":{"domain":[-28.76,28.76],"zero":false,"nice":false},"axis":{"values":[-20,-10,0,10,20],"format":"d","title":"Without bronchiectasis  With bronchiectasis"}},"y":{"datum":-1,"type":"quantitative","axis":null,"scale":{"domain":[-3.6885,7.9508],"reverse":true,"zero":false,"nice":false}}}},
{"data":{"values":[{}]},"mark":{"type":"text","text":"IV, Random, 95% CI","fontWeight":"bold","baseline":"middle"},"encoding":{"x":{"datum":0,"type":"quantitative","scale":{"domain":[-28.76,28.76],"zero":false,"nice":false},"axis":{"values":[-20,-10,0,10,20],"format":"d","title":"Without bronchiectasis  With bronchiectasis"}},"y":{"datum":0,"type":"quantitative","axis":null,"scale":{"domain":[-3.6885,7.9508],"reverse":true,"zero":false,"nice":false}}}},
{"data":{"values":[{}]},"mark":{"type":"rule","color":"#555"},"encoding":{"y":{"datum":0.45,"type":"quantitative","axis":null,"scale":{"domain":[-3.6885,7.9508],"reverse":true,"zero":false,"nice":false}}}},
{"data":{"values":[{}]},"mark":{"type":"rule","color":"#555"},"encoding":{"x":{"datum":0,"type":"quantitative","scale":{"domain":[-28.76,28.76],"zero":false,"nice":false},"axis":{"values":[-20,-10,0,10,20],"format":"d","title":"Without bronchiectasis  With bronchiectasis"}},"y":{"datum":0.45,"type":"quantitative","axis":null,"scale":{"domain":[-3.6885,7.9508],"reverse":true,"zero":false,"nice":false}},"y2":{"datum":7.9508}}},
{"transform":[{"filter":"datum.k=='s'"}],"mark":{"type":"rule","color":"#555","strokeWidth":1.6},"encoding":{"x":{"field":"lo","type":"quantitative","scale":{"domain":[-28.76,28.76],"zero":false,"nice":false},"axis":{"values":[-20,-10,0,10,20],"format":"d","title":"Without bronchiectasis  With bronchiectasis"}},"x2":{"field":"hi"},"y":{"field":"r","type":"quantitative","axis":null,"scale":{"domain":[-3.6885,7.9508],"reverse":true,"zero":false,"nice":false}}}},
{"transform":[{"filter":"datum.k=='s'"}],"mark":{"type":"point","shape":"square","filled":true,"color":"#2fb34a","opacity":1},"encoding":{"x":{"field":"est","type":"quantitative","scale":{"domain":[-28.76,28.76],"zero":false,"nice":false},"axis":{"values":[-20,-10,0,10,20],"format":"d","title":"Without bronchiectasis  With bronchiectasis"}},"y":{"field":"r","type":"quantitative","axis":null,"scale":{"domain":[-3.6885,7.9508],"reverse":true,"zero":false,"nice":false}},"size":{"field":"w","type":"quantitative","legend":null,"scale":{"domain":[0,100],"range":[0,104]}}}},
{"transform":[{"filter":"datum.k=='t'"}],"mark":{"type":"point","shape":"M-1,0L0,-0.36L1,0L0,0.36Z","filled":true,"color":"#000","opacity":1,"size":625},"encoding":{"x":{"field":"est","type":"quantitative","scale":{"domain":[-28.76,28.76],"zero":false,"nice":false},"axis":{"values":[-20,-10,0,10,20],"format":"d","title":"Without bronchiectasis  With bronchiectasis"}},"y":{"field":"r","type":"quantitative","axis":null,"scale":{"domain":[-3.6885,7.9508],"reverse":true,"zero":false,"nice":false}}}}
]
}
]
}
]
}
